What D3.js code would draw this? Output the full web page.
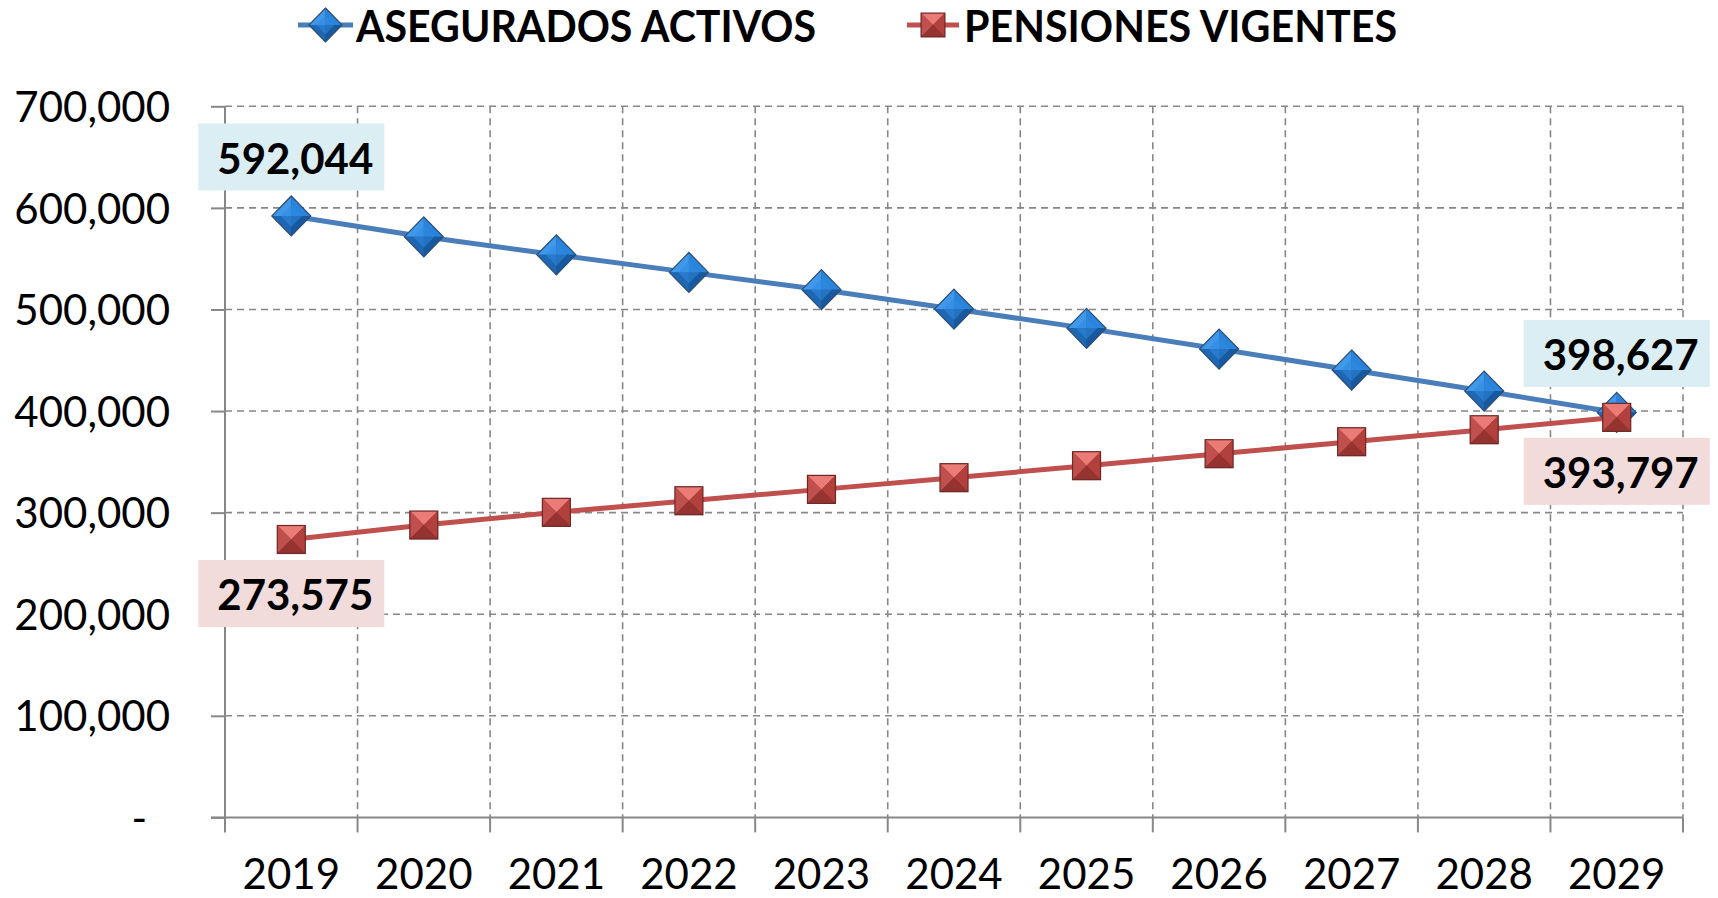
<!DOCTYPE html>
<html>
<head>
<meta charset="utf-8">
<script src="https://cdn.jsdelivr.net/npm/d3@7"></script>
<style>
  html, body { margin: 0; padding: 0; background: #ffffff; }
  svg { display: block; }
  text { font-family: Lato, "Open Sans", "Liberation Sans", sans-serif; }
</style>
</head>
<body>
<svg id="chart" width="1718" height="898"></svg>
<script>
// ---- data ----
const years = ["2019","2020","2021","2022","2023","2024","2025","2026","2027","2028","2029"];
const aseguradosActivos = [592044, 571500, 553800, 536500, 519500, 500400, 481400, 461000, 440400, 419700, 398627];
const pensionesVigentes = [273575, 287800, 300300, 311700, 322900, 334400, 346200, 358000, 369800, 381600, 393797];
const seriesNames = ["ASEGURADOS ACTIVOS", "PENSIONES VIGENTES"];
const yTicks = [0, 100000, 200000, 300000, 400000, 500000, 600000, 700000];

// ---- layout ----
const W = 1718, H = 898;
const plot = { left: 225, right: 1683, top: 106.3, bottom: 817.4 };
const svg = d3.select("#chart");

const x = d3.scaleBand().domain(years).range([plot.left, plot.right]).padding(0);
const y = d3.scaleLinear().domain([0, 700000]).range([plot.bottom, plot.top]);
const cx = d => x(d) + x.bandwidth() / 2;

const gridColor = "#878787";
const fmt = d3.format(",");

// horizontal dashed gridlines
svg.append("g").selectAll("line").data(yTicks.filter(t => t > 0)).join("line")
  .attr("x1", plot.left).attr("x2", plot.right)
  .attr("y1", d => y(d)).attr("y2", d => y(d))
  .attr("stroke", gridColor).attr("stroke-width", 1.6).attr("stroke-dasharray", "7,5");

// vertical dashed gridlines at category boundaries
const bounds = years.map(d => x(d)).concat([plot.right]);
svg.append("g").selectAll("line").data(bounds.slice(1)).join("line")
  .attr("x1", d => d).attr("x2", d => d)
  .attr("y1", plot.top).attr("y2", plot.bottom)
  .attr("stroke", gridColor).attr("stroke-width", 1.6).attr("stroke-dasharray", "7,5");

// y axis
const yAxis = d3.axisLeft(y).tickValues(yTicks).tickSize(14)
  .tickFormat(d => d === 0 ? "-" : fmt(d));
const gy = svg.append("g").attr("transform", `translate(${plot.left},0)`).call(yAxis);
gy.select(".domain").attr("stroke", gridColor).attr("stroke-width", 2)
  .attr("d", `M0,${plot.top}V${plot.bottom}`);
gy.selectAll(".tick line").attr("stroke", gridColor).attr("stroke-width", 2);
gy.selectAll(".tick text")
  .attr("x", -55).attr("dy", "0.36em")
  .attr("font-size", 42).attr("fill", "#000")
  .style("font-family", "Lato, 'Open Sans', sans-serif")
  .filter(d => d === 0).attr("x", -78);

// x axis
const xAxis = d3.axisBottom(x).tickSize(0).tickSizeOuter(0);
const gx = svg.append("g").attr("transform", `translate(0,${plot.bottom})`).call(xAxis);
gx.select(".domain").attr("stroke", gridColor).attr("stroke-width", 2)
  .attr("d", `M${plot.left - 14},0H${plot.right}`);
gx.selectAll(".tick text").attr("y", 72).attr("dy", 0)
  .attr("font-size", 42).attr("fill", "#000")
  .style("font-family", "Lato, 'Open Sans', sans-serif");
// x tick marks at category boundaries
svg.append("g").selectAll("line").data(bounds).join("line")
  .attr("x1", d => d).attr("x2", d => d)
  .attr("y1", plot.bottom).attr("y2", plot.bottom + 15)
  .attr("stroke", gridColor).attr("stroke-width", 2);

// ---- markers ----
function diamond(g, s) {
  const h = 20 * s, w = 19.5 * s, i = 0.55;
  g.append("path").attr("d", `M0,${-h}L${w},0L0,${h}L${-w},0Z`).attr("fill", "#1d4f86");
  g.append("path").attr("d", `M0,${-h}L0,0L${-w},0Z`).attr("fill", "#3f98ea");
  g.append("path").attr("d", `M0,${-h}L${w},0L0,0Z`).attr("fill", "#2a84dc");
  g.append("path").attr("d", `M${-w},0L0,0L0,${h}Z`).attr("fill", "#1f66b3");
  g.append("path").attr("d", `M${w},0L0,${h}L0,0Z`).attr("fill", "#17589f");
  g.append("path").attr("d", `M0,${-h*i}L${w*i},0L0,${h*i}L${-w*i},0Z`).attr("fill", "#2f8ae0").attr("opacity", 0.55);
  g.append("path").attr("d", `M0,${-h}L${w},0L0,${h}L${-w},0Z`)
    .attr("fill", "none").attr("stroke", "#2e4f75").attr("stroke-width", 1.2);
}
function square(g, s) {
  const a = 14 * s;
  g.append("rect").attr("x", -a).attr("y", -a).attr("width", 2 * a).attr("height", 2 * a).attr("fill", "#8c2f2d");
  g.append("path").attr("d", `M${-a},${-a}L${a},${-a}L0,0Z`).attr("fill", "#ea7b77");
  g.append("path").attr("d", `M${-a},${-a}L0,0L${-a},${a}Z`).attr("fill", "#c0504d");
  g.append("path").attr("d", `M${a},${-a}L${a},${a}L0,0Z`).attr("fill", "#b2403d");
  g.append("path").attr("d", `M${-a},${a}L0,0L${a},${a}Z`).attr("fill", "#953331");
  g.append("rect").attr("x", -a).attr("y", -a).attr("width", 2 * a).attr("height", 2 * a)
    .attr("fill", "none").attr("stroke", "#6e2826").attr("stroke-width", 1.2);
}

const series = [
  { name: seriesNames[0], values: aseguradosActivos, color: "#4a7ebb", marker: diamond, label: "#dbeef3" },
  { name: seriesNames[1], values: pensionesVigentes, color: "#c0504d", marker: square, label: "#f2dcdb" }
];

const line = d3.line().x((d, i) => cx(years[i])).y(d => y(d));
series.forEach(s => {
  svg.append("path").datum(s.values).attr("d", line)
    .attr("fill", "none").attr("stroke", s.color).attr("stroke-width", 5)
    .attr("stroke-linejoin", "round");
});
series.forEach(s => {
  svg.append("g").selectAll("g").data(s.values).join("g")
    .attr("transform", (d, i) => `translate(${cx(years[i])},${y(d)})`)
    .each(function () { s.marker(d3.select(this), 1); });
});

// ---- data labels (first and last point) ----
const boxW = 186, boxH = 67;
function dataLabel(s, idx, above) {
  const v = s.values[idx];
  const px = cx(years[idx]), py = y(v);
  const top = above ? py - 25.5 - boxH : py + 20.5;
  const g = svg.append("g");
  g.append("rect").attr("x", px - boxW / 2).attr("y", top).attr("width", boxW).attr("height", boxH)
    .attr("fill", s.label);
  g.append("text").attr("x", px + 4).attr("y", top + 50.5).attr("text-anchor", "middle")
    .attr("font-size", 42).attr("font-weight", "bold").attr("fill", "#000").text(fmt(v));
}
dataLabel(series[0], 0, true);
dataLabel(series[0], years.length - 1, true);
dataLabel(series[1], 0, false);
dataLabel(series[1], years.length - 1, false);

// ---- legend ----
const legend = [
  { s: series[0], x1: 298, x2: 353, tx: 356, tw: 460 },
  { s: series[1], x1: 907, x2: 959, tx: 964, tw: 433 }
];
legend.forEach(l => {
  const g = svg.append("g");
  g.append("line").attr("x1", l.x1).attr("x2", l.x2).attr("y1", 25).attr("y2", 25)
    .attr("stroke", l.s.color).attr("stroke-width", 5);
  const m = g.append("g").attr("transform", `translate(${(l.x1 + l.x2) / 2},25)`);
  l.s.marker(m, 0.85);
  g.append("text").attr("x", l.tx).attr("y", 41.5).attr("font-size", 44).attr("font-weight", "bold")
    .attr("textLength", l.tw).attr("lengthAdjust", "spacingAndGlyphs")
    .attr("fill", "#000").text(l.s.name);
});
</script>
</body>
</html>
